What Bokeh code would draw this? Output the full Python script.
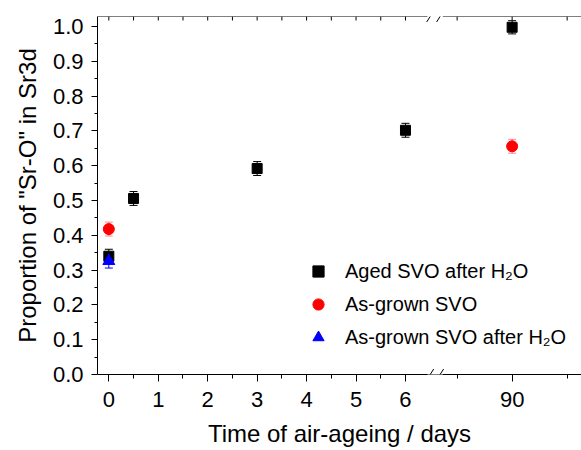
import numpy as np
from bokeh.plotting import figure
from bokeh.models import (ColumnDataSource, Whisker, TeeHead, FixedTicker,
                          Range1d, Legend, LegendItem, Arrow, NumeralTickFormatter)
from bokeh.embed import file_html
from bokeh.resources import INLINE

# ---------------- data ----------------
aged_days = [0, 0.5, 3, 6, 90]
aged_prop = [0.340, 0.506, 0.592, 0.702, 0.998]
aged_err = [0.020, 0.020, 0.020, 0.020, 0.019]

grown_days = [0, 90]
grown_prop = [0.418, 0.656]
grown_err = [0.020, 0.020]

grown_h2o_days = [0]
grown_h2o_prop = [0.326]
grown_h2o_err = [0.020]

x_major_days = [0, 1, 2, 3, 4, 5, 6, 90]
x_major_labels = ["0", "1", "2", "3", "4", "5", "6", "90"]
x_minor_days = [0.5, 1.5, 2.5, 3.5, 4.5, 5.5, 85, 95]
y_major = [0.0, 0.1, 0.2, 0.3, 0.4, 0.5, 0.6, 0.7, 0.8, 0.9, 1.0]

legend_labels = ["Aged SVO after H\u2082O", "As-grown SVO", "As-grown SVO after H\u2082O"]

# ---------------- broken x-axis mapping ----------------
SEG1_END = 6.5          # last day of the first (linear) segment
SEG2_REF = 90           # reference day in the second segment
SEG2_POS = 8.157        # axis position of the reference day
SEG2_SCALE = 0.2225     # axis units per day in the second segment
BREAK_POS = 6.6         # axis position of the break marks


def to_axis(days):
    return [d if d <= SEG1_END else SEG2_POS + (d - SEG2_REF) * SEG2_SCALE for d in days]


def err_src(days, vals, errs):
    x = to_axis(days)
    return ColumnDataSource(dict(
        x=x, y=vals,
        lower=[v - e for v, e in zip(vals, errs)],
        upper=[v + e for v, e in zip(vals, errs)],
    ))


FONT = "Liberation Sans"
X_MIN, X_MAX = -0.229, 9.56
Y_MAX = 1.029

p = figure(width=581, height=450, output_backend="svg", toolbar_location=None,
           x_range=Range1d(X_MIN, X_MAX), y_range=Range1d(0, Y_MAX),
           min_border_left=97, min_border_right=0, min_border_top=16, min_border_bottom=76,
           x_axis_label="Time of air-ageing / days",
           y_axis_label='Proportion of "Sr-O" in Sr3d')
p.grid.visible = False
p.outline_line_color = None
p.background_fill_color = "white"
p.border_fill_color = "white"

major_pos = to_axis(x_major_days)
xa = p.xaxis[0]
xa.ticker = FixedTicker(ticks=major_pos, minor_ticks=to_axis(x_minor_days))
xa.major_label_overrides = {pos: lab for pos, lab in zip(major_pos, x_major_labels)}
xa.major_tick_in = 0
xa.major_tick_out = 7
xa.minor_tick_in = 0
xa.minor_tick_out = 4
xa.major_label_standoff = 10
xa.axis_label_standoff = 10

ya = p.yaxis[0]
ya.ticker = FixedTicker(ticks=y_major,
                        minor_ticks=[round(v + 0.05, 2) for v in y_major[:-1]])
ya.formatter = NumeralTickFormatter(format="0.0")
ya.major_tick_in = 0
ya.major_tick_out = 6
ya.minor_tick_in = 0
ya.minor_tick_out = 3
ya.major_label_standoff = 8
ya.axis_label_standoff = 9

for ax in (xa, ya):
    ax.axis_line_color = "black"
    ax.axis_line_width = 1
    ax.major_tick_line_color = "black"
    ax.minor_tick_line_color = "black"
    ax.major_label_text_font = FONT
    ax.major_label_text_font_size = "22px"
    ax.major_label_text_color = "black"
    ax.axis_label_text_font = FONT
    ax.axis_label_text_font_size = "24px"
    ax.axis_label_text_font_style = "normal"
    ax.axis_label_text_color = "black"

# ---------------- top frame line with inward ticks ----------------
TOP_TICK = 4 / 358 * Y_MAX   # 4 px expressed in data units
top_days = [0, 0.5, 1, 1.5, 2, 2.5, 3, 3.5, 4, 4.5, 5, 5.5, 6, 85, 90, 95]
top_pos = to_axis(top_days)
p.segment(x0=top_pos, x1=top_pos, y0=[Y_MAX] * len(top_pos),
          y1=[Y_MAX - TOP_TICK] * len(top_pos), line_color="black", line_width=1)

gap = 0.155
for xs, xe in ((X_MIN, BREAK_POS - gap), (BREAK_POS + gap, X_MAX)):
    p.add_layout(Arrow(x_start=xs, y_start=Y_MAX, x_end=xe, y_end=Y_MAX,
                       start=None, end=None, line_color="black", line_width=1))

# ---------------- data glyphs ----------------
s_aged = err_src(aged_days, aged_prop, aged_err)
s_grown = err_src(grown_days, grown_prop, grown_err)
s_h2o = err_src(grown_h2o_days, grown_h2o_prop, grown_h2o_err)

for src, col, alpha in ((s_aged, "black", 1.0), (s_grown, "red", 0.45), (s_h2o, "blue", 1.0)):
    p.add_layout(Whisker(source=src, base="x", lower="lower", upper="upper",
                         line_color=col, line_alpha=alpha, line_width=1,
                         upper_head=TeeHead(size=8, line_color=col, line_alpha=alpha),
                         lower_head=TeeHead(size=8, line_color=col, line_alpha=alpha)))

r_aged = p.scatter("x", "y", source=s_aged, marker="square", size=10,
                   fill_color="black", line_color="black")
r_grown = p.scatter("x", "y", source=s_grown, marker="circle", size=11,
                    fill_color="red", line_color="red")
r_h2o = p.scatter("x", "y", source=s_h2o, marker="triangle", size=12,
                  fill_color="blue", line_color="blue")

legend = Legend(items=[LegendItem(label=legend_labels[0], renderers=[r_aged]),
                       LegendItem(label=legend_labels[1], renderers=[r_grown]),
                       LegendItem(label=legend_labels[2], renderers=[r_h2o])],
                location=(207, 23), padding=0, margin=0, spacing=5,
                glyph_width=28, glyph_height=28, label_height=28, label_standoff=13,
                label_text_font=FONT, label_text_font_size="20px",
                label_text_color="black",
                border_line_color=None, background_fill_alpha=0)
p.add_layout(legend)

# ---------------- bottom axis break ----------------
p.add_layout(Arrow(x_start=BREAK_POS - gap, y_start=0, x_end=BREAK_POS + gap, y_end=0,
                   start=None, end=None, line_color="white", line_width=4))
for yb in (0, Y_MAX):
    for dx in (-0.1, 0.1):
        p.add_layout(Arrow(x_start=BREAK_POS + dx - 0.071, y_start=yb - 0.0158,
                           x_end=BREAK_POS + dx + 0.071, y_end=yb + 0.0158,
                           start=None, end=None, line_color="black", line_width=1))

open("out.html", "w").write(file_html(p, INLINE))
